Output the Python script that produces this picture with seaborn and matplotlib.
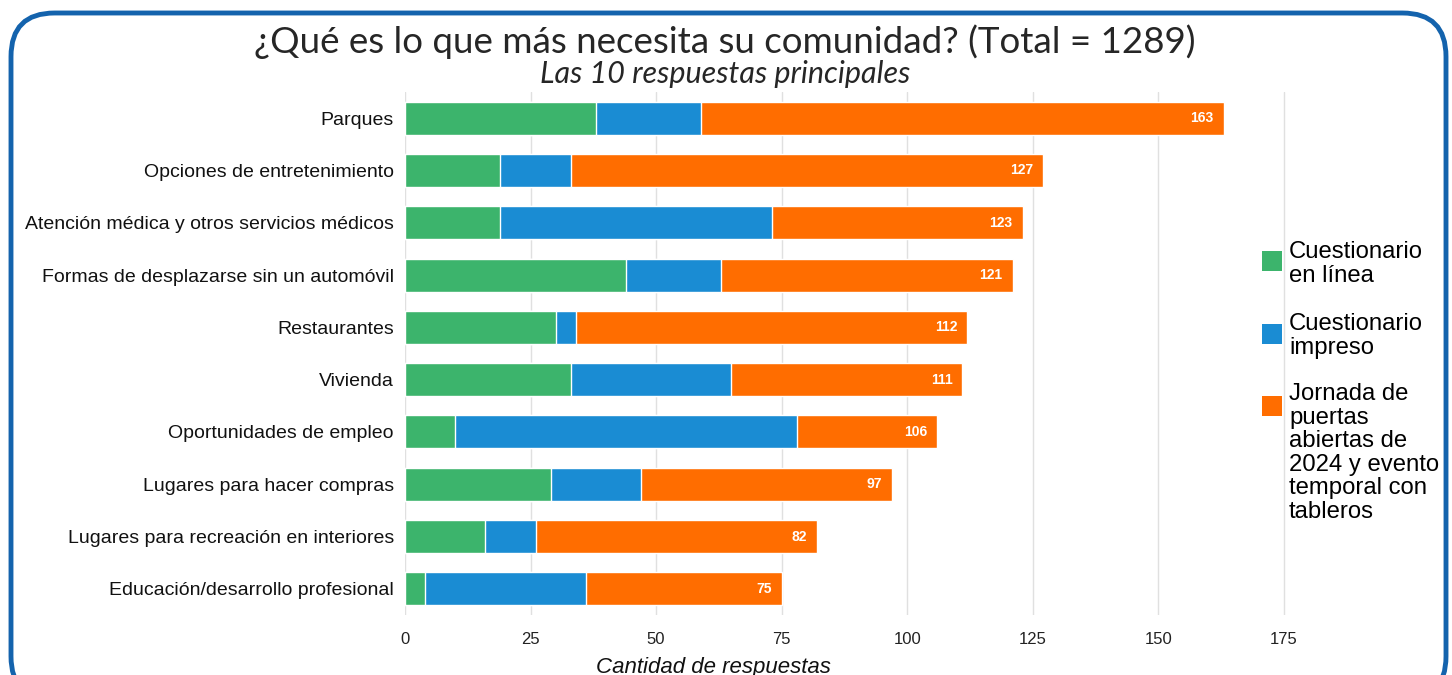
import matplotlib
matplotlib.use("Agg")
import matplotlib.pyplot as plt
import seaborn as sns
import pandas as pd
import numpy as np
from matplotlib.patches import FancyBboxPatch, Rectangle

categories = ["Parques", "Opciones de entretenimiento",
              "Atención médica y otros servicios médicos",
              "Formas de desplazarse sin un automóvil", "Restaurantes",
              "Vivienda", "Oportunidades de empleo",
              "Lugares para hacer compras",
              "Lugares para recreación en interiores",
              "Educación/desarrollo profesional"]
online = [38, 19, 19, 44, 30, 33, 10, 29, 16, 4]
printed = [21, 14, 54, 19, 4, 32, 68, 18, 10, 32]
totals = [163, 127, 123, 121, 112, 111, 106, 97, 82, 75]
openhouse = [t - a - b for t, a, b in zip(totals, online, printed)]
series_names = ["Cuestionario\nen línea", "Cuestionario\nimpreso",
                "Jornada de\npuertas\nabiertas de\n2024 y evento\ntemporal con\ntableros"]
xticks = [0, 25, 50, 75, 100, 125, 150, 175]

c_green = "#3cb46c"
c_blue = "#1a8cd3"
c_orange = "#ff6d00"
colors = [c_green, c_blue, c_orange]

df = pd.DataFrame({"cat": categories, "online": online, "printed": printed,
                   "total": totals})
df["cum2"] = df["online"] + df["printed"]

sns.set_theme(style="white")
plt.rcParams["font.family"] = ["Liberation Sans", "DejaVu Sans"]

W, H = 1452, 675
fig = plt.figure(figsize=(W/100, H/100), dpi=100)
ax = fig.add_axes([405/W, 1-615/H, 904/W, (615-92)/H])

sns.barplot(data=df, y="cat", x="total", color=c_orange, orient="h",
            width=0.63, ax=ax, saturation=1, zorder=3)
sns.barplot(data=df, y="cat", x="cum2", color=c_blue, orient="h",
            width=0.63, ax=ax, saturation=1, zorder=3)
sns.barplot(data=df, y="cat", x="online", color=c_green, orient="h",
            width=0.63, ax=ax, saturation=1, zorder=3)

for i, t in enumerate(totals):
    ax.text(t - 2.0, i, str(t), ha="right", va="center", color="white",
            fontsize=10, fontweight="bold", zorder=5)

ax.set_xlim(0, 180)
ax.set_xticks(xticks)
ax.set_xticklabels([str(v) for v in xticks], fontsize=12)
ax.grid(axis="x", color="#e0e0e0", linewidth=1, zorder=0)
ax.set_axisbelow(True)
for s in ax.spines.values():
    s.set_visible(False)
ax.set_ylabel("")
ax.set_xlabel("")
ax.tick_params(axis="y", labelsize=14, length=0, pad=8, labelcolor="#111111")
ax.tick_params(axis="x", length=0, pad=12, labelcolor="#222222")

# legend (manual layout, to match the reference's handle placement)
sq_tops = [251, 324, 396]
first_baselines = [258, 330.5, 400]
line_step = 23.6
for name, col, top, base in zip(series_names, colors, sq_tops, first_baselines):
    fig.patches.append(Rectangle((1262/W, 1-(top+20)/H), 20/W, 20/H,
                                 transform=fig.transFigure, facecolor=col,
                                 edgecolor="none"))
    for k, line in enumerate(name.split("\n")):
        fig.text(1289/W, 1-(base + k*line_step)/H, line, ha="left",
                 va="baseline", fontsize=17.2, color="#000000")

fig.text(725/W, 1-42/H, "¿Qué es lo que más necesita su comunidad? (Total = 1289)",
         ha="center", va="center", fontsize=26.5, family=["Lato", "DejaVu Sans"])
fig.text(725/W, 1-74/H, "Las 10 respuestas principales",
         ha="center", va="center", fontsize=22, style="italic",
         family=["Lato", "DejaVu Sans"])
fig.text(713/W, 1-667/H, "Cantidad de respuestas", ha="center",
         va="center", fontsize=16, style="italic", color="#111111")

frame = FancyBboxPatch((11/W, 1-700/H), 1435/W, (700-13)/H,
                       boxstyle="round,pad=0,rounding_size=0.03",
                       transform=fig.transFigure, facecolor="none",
                       edgecolor="#1463ad", linewidth=3.5, zorder=10,
                       mutation_aspect=W/H)
fig.patches.append(frame)

fig.savefig("out.png", dpi=100)
